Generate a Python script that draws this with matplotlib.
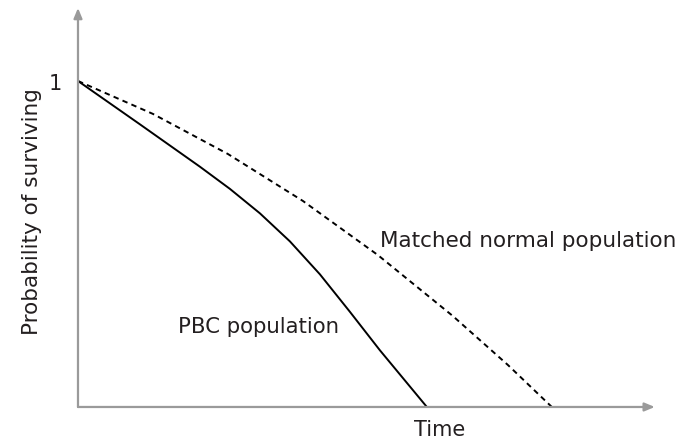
import matplotlib.pyplot as plt

# PBC population (solid curve)
pbc_time = [0.0, 0.62, 1.22, 1.52, 1.82, 2.12, 2.42, 2.72, 3.02, 3.49]
pbc_surv = [1.0, 0.867, 0.737, 0.669, 0.594, 0.508, 0.407, 0.292, 0.174, 0.0]

# Matched normal population (dashed curve)
norm_time = [0.0, 0.75, 1.50, 2.25, 3.00, 3.75, 4.30, 4.74]
norm_surv = [1.0, 0.899, 0.776, 0.632, 0.466, 0.279, 0.129, 0.0]

fig = plt.figure(figsize=(6.77, 4.43), dpi=100)
ax = fig.add_axes([0.1152, 0.0813, 0.852, 0.9007])
ax.set_xlim(0, 5.77)
ax.set_ylim(0, 1.224)

ax.plot(pbc_time, pbc_surv, color='black', lw=1.4, solid_joinstyle='round')
ax.plot(norm_time, norm_surv, color='black', lw=1.4, dashes=(2.8, 2.2))

# axes drawn as grey arrows
for s in ax.spines.values():
    s.set_visible(False)
ax.set_xticks([])
ax.set_yticks([])
grey = '#9a9a9a'
arrow = dict(arrowstyle='-|>,head_length=0.6,head_width=0.25', color=grey, lw=1.6,
             shrinkA=0, shrinkB=0)
ax.annotate('', xy=(1, 0), xytext=(0, 0), xycoords='axes fraction', arrowprops=arrow)
ax.annotate('', xy=(0, 1), xytext=(0, 0), xycoords='axes fraction', arrowprops=arrow)

txt = '#231f20'
ax.text(-0.16, 0.972, '1', ha='right', va='baseline', fontsize=15, color=txt)
ax.text(-0.08, 0.60, 'Probability of surviving', rotation=90, ha='center', va='center',
        fontsize=15.5, color=txt, transform=ax.get_yaxis_transform())
ax.text(3.62, -0.089, 'Time', ha='center', va='baseline', fontsize=15, color=txt)
ax.text(1.00, 0.227, 'PBC population', ha='left', va='baseline', fontsize=15.3, color=txt)
ax.text(3.02, 0.491, 'Matched normal population', ha='left', va='baseline', fontsize=15.5,
        color=txt)

fig.savefig('out.png', dpi=100)
